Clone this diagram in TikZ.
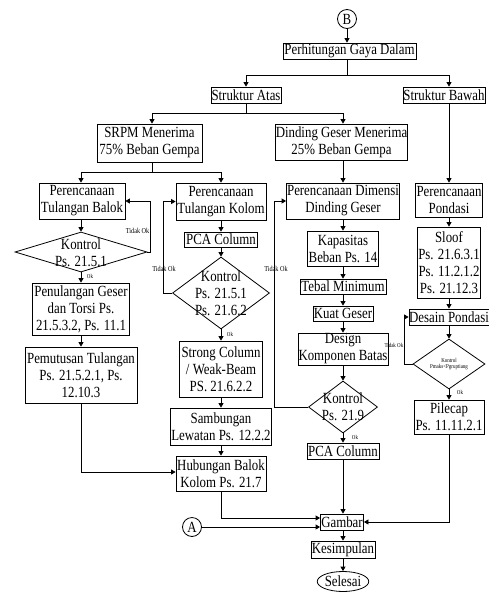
\documentclass[tikz,border=0pt]{standalone}
\usepackage{fontspec}
\setmainfont[FakeStretch=0.83]{Liberation Serif}
\usetikzlibrary{shapes.geometric,arrows.meta}
\newcommand{\bigfs}{\fontsize{15.5}{17}\selectfont}
\newcommand{\smallfs}{\fontsize{7.5}{8}\selectfont}
\newcommand{\tinyfs}{\fontsize{6}{6.5}\selectfont}
\begin{document}
\begin{tikzpicture}[x=1pt,y=-1pt,
  bx/.style={draw, line width=0.8pt, inner sep=0pt, align=center, font=\bigfs},
  dia/.style={draw, diamond, line width=0.8pt, inner sep=0pt},
  dtxt/.style={inner sep=0pt, align=center, font=\bigfs},
  lbl/.style={font=\smallfs, inner sep=0.5pt},
  tlbl/.style={font=\tinyfs, inner sep=0.5pt},
  ar/.style={line width=0.8pt, -{Triangle[length=4.5pt,width=5pt]}},
  ln/.style={line width=0.8pt}]
\useasboundingbox (0,0) rectangle (489,592);

% nodes
\node[draw, circle, line width=0.8pt, minimum size=19pt, inner sep=0pt, font=\bigfs] (B) at (347,19) {B};
\node[bx, minimum width=133pt, minimum height=16pt] (pg) at (349.5,51) {Perhitungan Gaya Dalam};
\node[bx, minimum width=70pt, minimum height=16pt] (sa) at (246,95) {Struktur Atas};
\node[bx, minimum width=82pt, minimum height=16pt] (sb) at (444,95) {Struktur Bawah};

\node[bx, minimum width=105pt, minimum height=38pt] (srpm) at (149.5,143) {SRPM Menerima\\75\% Beban Gempa};
\node[bx, minimum width=131pt, minimum height=36pt] (dg) at (341.5,142) {Dinding Geser Menerima\\25\% Beban Gempa};

\node[bx, minimum width=86pt, minimum height=36pt] (pb) at (82,201) {Perencanaan\\Tulangan Balok};
\node[bx, minimum width=90pt, minimum height=37pt] (pk) at (221,201.5) {Perencanaan\\Tulangan Kolom};
\node[bx, minimum width=113pt, minimum height=36pt] (pdd) at (343,201) {Perencanaan Dimensi\\Dinding Geser};
\node[bx, minimum width=67pt, minimum height=34pt] (pp) at (449,200) {Perencanaan\\Pondasi};

\node[dia, minimum width=132pt, minimum height=40pt] (k1) at (81,252) {};
\node[dtxt] (k1t) at (81,253) {Kontrol\\Ps. 21.5.1};
\node[bx, minimum width=73pt, minimum height=15pt] (pca1) at (221,239.5) {PCA Column};
\node[bx, minimum width=71pt, minimum height=35pt] (kap) at (343,248.5) {Kapasitas\\Beban Ps. 14};
\node[bx, minimum width=63pt, minimum height=71pt] (sloof) at (449,262.5) {Sloof\\Ps. 21.6.3.1\\Ps. 11.2.1.2\\Ps. 21.12.3};

\node[bx, minimum width=97pt, minimum height=52pt] (pgs) at (81,309) {Penulangan Geser\\dan Torsi Ps.\\21.5.3.2, Ps. 11.1};
\node[dia, minimum width=97pt, minimum height=72pt] (k2) at (221,293) {};
\node[dtxt] (k2t) at (221,293) {Kontrol\\Ps. 21.5.1\\Ps. 21.6.2};
\node[bx, minimum width=86pt, minimum height=15pt] (tebal) at (343,286.5) {Tebal Minimum};
\node[bx, minimum width=60pt, minimum height=15pt] (kuat) at (343,313.5) {Kuat Geser};
\node[bx, minimum width=80pt, minimum height=16pt] (dp) at (449,317) {Desain Pondasi};

\node[bx, minimum width=83pt, minimum height=56pt] (sc) at (221,369) {Strong Column\\/ Weak-Beam\\PS. 21.6.2.2};
\node[bx, minimum width=90pt, minimum height=32pt] (des) at (343,349) {Design\\Komponen Batas};
\node[dia, minimum width=72pt, minimum height=50pt] (k4) at (449,364) {};
\node[inner sep=0pt, align=center, font=\tinyfs] (k4t) at (449,364) {Kontrol\\Pmaks<Pgruptiang};

\node[bx, minimum width=112pt, minimum height=56pt] (pm) at (81,375) {Pemutusan Tulangan\\Ps. 21.5.2.1, Ps.\\12.10.3};
\node[dia, minimum width=69pt, minimum height=52pt] (k3) at (343,407) {};
\node[dtxt] (k3t) at (343,407) {Kontrol\\Ps. 21.9};

\node[bx, minimum width=101pt, minimum height=37pt] (samb) at (221,426.5) {Sambungan\\Lewatan Ps. 12.2.2};
\node[bx, minimum width=70pt, minimum height=34pt] (pile) at (449,417) {Pilecap\\Ps. 11.11.2.1};
\node[bx, minimum width=72pt, minimum height=16pt] (pca2) at (343,451) {PCA Column};
\node[bx, minimum width=90pt, minimum height=35pt] (hub) at (221,473.5) {Hubungan Balok\\Kolom Ps. 21.7};

\node[bx, minimum width=43pt, minimum height=16pt] (gam) at (342,522) {Gambar};
\node[draw, circle, line width=0.8pt, minimum size=19pt, inner sep=0pt, font=\bigfs] (A) at (192,527) {A};
\node[bx, minimum width=64pt, minimum height=17pt] (kes) at (343,549.5) {Kesimpulan};
\node[draw, ellipse, line width=0.8pt, minimum width=46pt, minimum height=20pt, inner sep=0pt, font=\bigfs] (sel) at (343,581.5) {Selesai};

% labels
\node[lbl, anchor=east] (t1) at (150,231) {Tidak Ok};
\node[lbl, fill=white] (t2) at (164,269) {Tidak Ok};
\node[lbl, fill=white] (t3) at (276,269) {Tidak Ok};
\node[tlbl, anchor=east] (t4) at (404,345) {Tidak Ok};
\node[tlbl] (o1) at (90,276) {Ok};
\node[tlbl] (o2) at (230,334) {Ok};
\node[tlbl] (o3) at (355,437) {Ok};
\node[tlbl] (o4) at (460,392) {Ok};

% connectors
\draw[ar] (B.south) -- (B.south |- pg.north);
\draw[ln] (pg.south -| B) -- ++(0,16) coordinate (j1);
\draw[ar] (j1) -| (sa.north);
\draw[ar] (j1) -| (pp.north |- sb.north);
\draw[ln] (sa.south) -- ++(0,10) coordinate (j2);
\draw[ar] (j2) -| ([xshift=2.5pt]srpm.north);
\draw[ar] (j2) -| (dg.north -| pdd);
\draw[ar] (pp.north |- sb.south) -- (pp.north);
\draw[ln] ([xshift=2.5pt]srpm.south) -- ++(0,10) coordinate (j3);
\draw[ar] (j3) -| (pb.north -| k1);
\draw[ar] (j3) -| (pk.north);
\draw[ar] (pdd.north |- dg.south) -- (pdd.north);

% left column
\draw[ar] (pb.south -| k1) -- (k1.north);
\draw[ar] (k1.south) -- (pgs.north);
\draw[ar] (pgs.south) -- (pm.north);
\draw[ar] (k1.east) -- ++(3,0) |- (pb.east);
\draw[ar] (pm.south) |- ([yshift=1.5pt]hub.west);

% kolom column
\draw[ar] (pk.south) -- (pca1.north);
\draw[ar] (pca1.south) -- (k2.north);
\draw[ar] (k2.south) -- (sc.north);
\draw[ar] (sc.south) -- (samb.north);
\draw[ar] (samb.south) -- (hub.north);
\draw[ar] (k2.west) -- ++(-9,0) |- (pk.west);
\draw[ar] (hub.south) |- ([yshift=4pt]gam.west);
\draw[ar] (A.east) -- (A.east -| gam.west);

% dinding column
\draw[ar] (pdd.south) -- (kap.north);
\draw[ar] (kap.south) -- (tebal.north);
\draw[ar] (tebal.south) -- (kuat.north);
\draw[ar] (kuat.south) -- (des.north);
\draw[ar] (des.south) -- (k3.north);
\draw[ar] (k3.south) -- (pca2.north);
\draw[ar] (k3.west) -- ++(-34,0) |- (pdd.west);
\draw[ar] (pca2.south) -- (pca2.south |- gam.north);

% pondasi column
\draw[ar] (pp.south) -- (sloof.north);
\draw[ar] (sloof.south) -- (dp.north);
\draw[ar] (dp.south) -- (k4.north);
\draw[ar] (k4.south) -- (pile.north);
\draw[ar] (k4.west) -- ++(-8,0) |- (dp.west);
\draw[ar] (pile.south) |- (gam.east);

% bottom
\draw[ar] (gam.south -| kes) -- (kes.north);
\draw[ar] (kes.south) -- (sel.north);
\end{tikzpicture}
\end{document}
